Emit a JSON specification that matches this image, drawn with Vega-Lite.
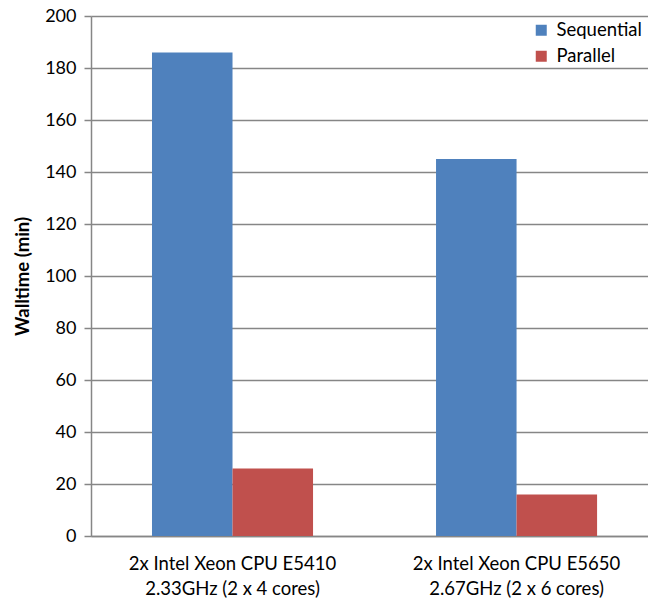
{
  "$schema": "https://vega.github.io/schema/vega-lite/v6.json",
  "width": 557,
  "height": 520,
  "autosize": "none",
  "padding": {"left": 91, "top": 16, "right": 0, "bottom": 64},
  "background": "white",
  "config": {
    "view": {"stroke": null},
    "font": "Lato"
  },
  "data": {
    "values": [
      {"cpu": "2x Intel Xeon CPU E5410|2.33GHz (2 x 4 cores)", "mode": "Sequential", "walltime": 186},
      {"cpu": "2x Intel Xeon CPU E5410|2.33GHz (2 x 4 cores)", "mode": "Parallel", "walltime": 26},
      {"cpu": "2x Intel Xeon CPU E5650|2.67GHz (2 x 6 cores)", "mode": "Sequential", "walltime": 145},
      {"cpu": "2x Intel Xeon CPU E5650|2.67GHz (2 x 6 cores)", "mode": "Parallel", "walltime": 16}
    ]
  },
  "mark": {"type": "bar"},
  "encoding": {
    "x": {
      "field": "cpu",
      "type": "nominal",
      "sort": null,
      "scale": {"paddingInner": 0.433, "paddingOuter": 0.197, "align": 0.545},
      "axis": {
        "title": null,
        "labelAngle": 0,
        "labelExpr": "split(datum.value, '|')",
        "labelFontSize": 18.5,
        "labelLimit": 400,
        "labelColor": "#000000",
        "labelLineHeight": 25,
        "labelPadding": 18,
        "ticks": false,
        "domainColor": "#868686",
        "domainWidth": 1.5
      }
    },
    "xOffset": {"field": "mode", "type": "nominal", "sort": ["Sequential", "Parallel"], "scale": {"paddingInner": 0, "paddingOuter": 0}},
    "y": {
      "field": "walltime",
      "type": "quantitative",
      "scale": {"domain": [0, 200], "nice": false},
      "axis": {
        "title": "Walltime (min)",
        "titleFontSize": 18.5,
        "titleFontWeight": "bold",
        "titleColor": "#000000",
        "titlePadding": 12,
        "values": [0, 20, 40, 60, 80, 100, 120, 140, 160, 180, 200],
        "labelFontSize": 18,
        "labelColor": "#000000",
        "labelPadding": 8,
        "tickSize": 7,
        "tickColor": "#868686",
        "tickWidth": 1.5,
        "domainColor": "#868686",
        "domainWidth": 1.5,
        "grid": true,
        "gridColor": "#868686",
        "gridWidth": 1.5
      }
    },
    "color": {
      "field": "mode",
      "type": "nominal",
      "sort": ["Sequential", "Parallel"],
      "scale": {"domain": ["Sequential", "Parallel"], "range": ["#4F81BD", "#C0504D"]},
      "legend": {
        "title": null,
        "orient": "none",
        "legendX": 441,
        "legendY": 5,
        "symbolType": "square",
        "symbolSize": 121,
        "symbolStrokeWidth": 0,
        "labelFontSize": 18.5,
        "labelLimit": 300,
        "labelColor": "#000000",
        "rowPadding": 7,
        "labelOffset": 6,
        "fillColor": "white"
      }
    }
  }
}
